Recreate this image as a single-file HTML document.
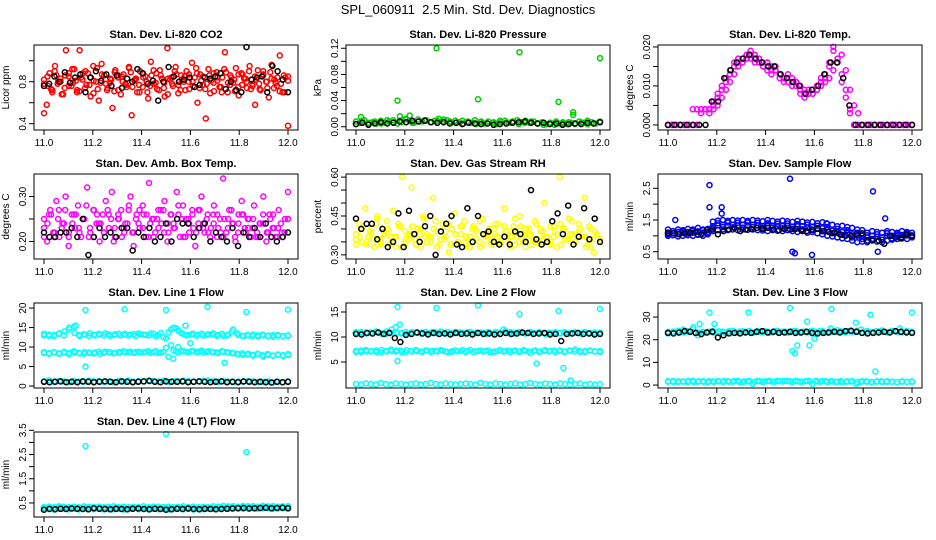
<!DOCTYPE html>
<html><head><meta charset="utf-8"><style>
html,body{margin:0;padding:0;background:#fff;}
svg{display:block;font-family:"Liberation Sans",sans-serif;}
</style></head><body>
<svg id="chart" width="936" height="540" viewBox="0 0 936 540" xmlns="http://www.w3.org/2000/svg">
<rect width="936" height="540" fill="#fff"/>
<text x="468" y="14" text-anchor="middle" font-size="13" xml:space="preserve">SPL_060911  2.5 Min. Std. Dev. Diagnostics</text>
</svg>
<script>
// ---- data arrays ----
const xTicks=[11.0,11.2,11.4,11.6,11.8,12.0];
const xTickLabels=["11.0","11.2","11.4","11.6","11.8","12.0"];

const co2Red=[0.50,0.58,0.88,0.72,0.95,0.78,0.83,0.68,1.10,0.85,0.76,0.92,0.70,1.10,0.82,0.74,0.88,0.66,0.95,0.80,0.62,0.97,0.86,0.72,0.79,0.55,0.91,0.84,0.68,0.87,0.77,0.93,0.48,0.81,0.70,0.90,0.75,0.85,0.64,0.99,0.78,0.88,0.72,0.83,0.66,1.12,0.82,0.76,0.94,0.69,0.86,0.80,0.90,0.73,0.98,0.84,0.60,0.87,0.77,0.45,0.92,0.81,0.71,0.89,0.75,0.84,1.08,0.70,0.86,0.79,0.93,0.67,0.88,0.83,0.74,0.95,0.78,0.58,0.91,0.72,0.87,0.80,0.65,0.96,0.82,0.76,1.05,0.70,0.84,0.38];
const co2Red2=[0.82,0.76,0.70,0.86,0.80,0.74,0.88,0.79,0.72,0.84,0.90,0.77,0.81,0.73,0.87,0.78,0.83,0.71,0.86,0.80,0.75,0.89,0.82,0.77,0.84,0.70,0.86,0.79,0.91,0.74,0.83,0.78,0.87,0.72,0.85,0.80,0.76,0.88,0.81,0.73,0.86,0.79,0.84,0.70,0.89,0.77,0.82,0.75,0.87,0.80,0.73,0.85,0.78,0.90,0.74,0.83,0.79,0.71,0.86,0.81];
const co2Red3=[0.78,0.85,0.73,0.90,0.80,0.68,0.86,0.76,0.92,0.81,0.71,0.88,0.77,0.84,0.69,0.93,0.79,0.86,0.74,0.82,0.89,0.72,0.85,0.78,0.94,0.75,0.83,0.70,0.88,0.80,0.76,0.91,0.73,0.86,0.79,0.68,0.84,0.90,0.77,0.82,0.72,0.87,0.80,0.93,0.74,0.85,0.78,0.69,0.88,0.81,0.75,0.92,0.79,0.84,0.71,0.87,0.77,0.83,0.90,0.76,0.82,0.73,0.86,0.80,0.89,0.74,0.84,0.78,0.70,0.85];
const co2Black=[0.76,0.78,0.85,0.80,0.89,0.79,0.84,0.87,0.70,0.84,0.90,0.81,0.87,0.76,0.86,0.74,0.83,0.80,0.92,0.88,0.78,0.81,0.62,0.80,0.94,0.85,0.80,0.82,0.84,0.75,0.77,0.84,0.83,0.85,0.88,0.73,0.80,0.72,0.70,1.13,0.82,0.84,0.85,0.70,0.95,0.90,0.82,0.70];

const presGreen=[0.008,0.006,0.010,0.004,0.007,0.005,0.009,0.006,0.008,0.010,0.005,0.007,0.012,0.009,0.006,0.011,0.008,0.010,0.007,0.009,0.012,0.008,0.010,0.006,0.009,0.007,0.005,0.008,0.006,0.004,0.007,0.005,0.008,0.006,0.004,0.007,0.009,0.006,0.008,0.010,0.007,0.009,0.006,0.008,0.005,0.007,0.004,0.006,0.003,0.005,0.007,0.004,0.006,0.005,0.008,0.006,0.004,0.007,0.005,0.008];
const presGreen2=[0.004,0.009,0.006,0.008,0.005,0.010,0.007,0.009,0.011,0.006,0.008,0.010,0.007,0.009,0.011,0.008,0.006,0.009,0.007,0.010,0.008,0.005,0.007,0.009,0.006,0.008,0.004,0.006,0.008,0.005,0.003,0.006,0.008,0.005,0.007,0.004,0.006,0.009,0.005,0.007];
const presOutT=[11.02,11.17,11.18,11.22,11.33,11.50,11.67,11.83,11.89,11.89,12.00];
const presOutV=[0.015,0.040,0.016,0.017,0.120,0.042,0.114,0.038,0.022,0.018,0.105];
const presBlack=[0.004,0.006,0.003,0.005,0.007,0.005,0.006,0.008,0.007,0.009,0.008,0.009,0.007,0.006,0.007,0.005,0.006,0.004,0.006,0.005,0.004,0.005,0.003,0.004,0.005,0.006,0.007,0.008,0.006,0.005,0.006,0.004,0.005,0.003,0.004,0.005,0.004,0.006,0.005,0.007];

const tempMag=[0,0,0,0,0,0,0.004,0,0.004,0.004,0.003,0.006,0.007,0.010,0.012,0.014,0.015,0.016,0.017,0.018,0.017,0.016,0.017,0.015,0.016,0.015,0.014,0.013,0.012,0.011,0.012,0.010,0.009,0.008,0.009,0.008,0.010,0.011,0.013,0.015,0.019,0.016,0.011,0.007,0.004,0,0,0,0,0,0,0,0,0,0,0,0,0,0,0];
const tempMag2=[0,0,0,0,0,0,0,0.004,0.003,0.004,0.004,0.005,0.008,0.009,0.011,0.013,0.016,0.017,0.016,0.017,0.019,0.018,0.016,0.016,0.014,0.013,0.015,0.012,0.011,0.013,0.010,0.011,0.008,0.007,0.008,0.009,0.009,0.012,0.012,0.016,0.020,0.017,0.013,0.009,0.003,0,0,0,0,0,0,0,0,0,0,0,0,0,0,0];
const tempMag3=[0,0,0,0,0,0,0,0,0.004,0.004,0.004,0.004,0.005,0.007,0.009,0.011,0.013,0.015,0.016,0.017,0.018,0.017,0.016,0.015,0.016,0.014,0.014,0.013,0.012,0.011,0.011,0.011,0.010,0.009,0.008,0.008,0.009,0.010,0.011,0.012,0.014,0.016,0.018,0.014,0.009,0.005,0.003,0,0,0,0,0,0,0,0,0,0,0,0,0];
const tempBlack=[0,0,0,0,0,0,0,0.006,0.006,0.012,0.014,0.016,0.017,0.018,0.017,0.016,0.015,0.015,0.013,0.012,0.011,0.010,0.008,0.009,0.010,0.013,0.016,0.016,0.012,0.005,0,0,0,0,0,0,0,0,0,0];

const ambMag=[0.25,0.20,0.27,0.22,0.29,0.21,0.24,0.30,0.19,0.26,0.23,0.28,0.21,0.25,0.32,0.22,0.27,0.24,0.20,0.26,0.29,0.23,0.31,0.21,0.25,0.27,0.22,0.24,0.30,0.19,0.26,0.23,0.28,0.21,0.33,0.25,0.22,0.27,0.24,0.29,0.20,0.26,0.23,0.31,0.21,0.28,0.25,0.22,0.27,0.19,0.24,0.30,0.22,0.26,0.23,0.28,0.21,0.25,0.34,0.22,0.27,0.24,0.20,0.26,0.29,0.23,0.25,0.21,0.28,0.22,0.24,0.30,0.20,0.26,0.23,0.21,0.27,0.22,0.25,0.31];
const ambMag2=[0.23,0.26,0.21,0.27,0.24,0.22,0.26,0.23,0.25,0.21,0.27,0.24,0.22,0.26,0.20,0.25,0.23,0.27,0.22,0.24,0.26,0.21,0.25,0.23,0.27,0.22,0.24,0.26,0.21,0.25,0.23,0.27,0.24,0.22,0.26,0.23,0.21,0.25,0.24,0.22,0.26,0.23,0.25,0.21,0.24,0.22,0.26,0.23,0.21,0.25];
const ambMag3=[0.21,0.24,0.26,0.22,0.25,0.23,0.27,0.21,0.24,0.26,0.22,0.25,0.28,0.23,0.21,0.26,0.24,0.22,0.27,0.25,0.23,0.26,0.21,0.24,0.28,0.22,0.25,0.27,0.23,0.26,0.24,0.21,0.25,0.27,0.22,0.24,0.26,0.23,0.28,0.25,0.21,0.24,0.26,0.22,0.27,0.23,0.25,0.21,0.24,0.26,0.22,0.25,0.23,0.27,0.21,0.24,0.26,0.22,0.25,0.23,0.21,0.24,0.26,0.22,0.25,0.23,0.21,0.24,0.22,0.25];
const ambBlack=[0.22,0.21,0.21,0.22,0.22,0.23,0.21,0.25,0.17,0.21,0.23,0.21,0.22,0.21,0.23,0.23,0.18,0.22,0.21,0.23,0.20,0.21,0.24,0.20,0.25,0.24,0.24,0.21,0.23,0.24,0.20,0.22,0.21,0.20,0.23,0.19,0.22,0.21,0.23,0.21,0.24,0.21,0.20,0.21,0.22];

const rhYellow=[0.38,0.42,0.35,0.48,0.37,0.40,0.33,0.45,0.36,0.39,0.43,0.34,0.47,0.37,0.41,0.60,0.35,0.38,0.56,0.36,0.40,0.33,0.44,0.38,0.36,0.52,0.39,0.34,0.42,0.37,0.31,0.40,0.46,0.35,0.38,0.43,0.36,0.33,0.41,0.39,0.35,0.44,0.37,0.40,0.34,0.38,0.42,0.36,0.48,0.39,0.33,0.41,0.37,0.45,0.35,0.40,0.38,0.34,0.43,0.36,0.39,0.50,0.35,0.41,0.37,0.33,0.60,0.40,0.36,0.44,0.38,0.35,0.42,0.37,0.52,0.34,0.40,0.31,0.38,0.36];
const rhYellow2=[0.36,0.40,0.34,0.38,0.42,0.35,0.39,0.37,0.33,0.41,0.36,0.38,0.34,0.40,0.37,0.35,0.43,0.36,0.39,0.34,0.38,0.41,0.35,0.37,0.40,0.33,0.38,0.36,0.42,0.35,0.39,0.37,0.34,0.41,0.36,0.38,0.35,0.40,0.37,0.34,0.39,0.42,0.36,0.38,0.35,0.40,0.37,0.33,0.39,0.36];
const rhYellow3=[0.34,0.37,0.41,0.35,0.39,0.36,0.44,0.34,0.38,0.40,0.35,0.37,0.42,0.33,0.39,0.36,0.41,0.34,0.38,0.45,0.35,0.37,0.40,0.33,0.39,0.36,0.42,0.34,0.38,0.35,0.41,0.37,0.33,0.40,0.36,0.43,0.34,0.38,0.35,0.40,0.37,0.34,0.41,0.36,0.39,0.44,0.35,0.38,0.33,0.40,0.36,0.42,0.34,0.39,0.37,0.35,0.41,0.38,0.34,0.40,0.36,0.43,0.35,0.39,0.37,0.33,0.41,0.36,0.38,0.35];
const rhBlack=[0.44,0.40,0.42,0.42,0.36,0.40,0.33,0.35,0.46,0.33,0.47,0.38,0.35,0.41,0.45,0.30,0.39,0.42,0.45,0.34,0.33,0.48,0.35,0.45,0.38,0.39,0.35,0.34,0.37,0.34,0.39,0.38,0.35,0.55,0.36,0.34,0.35,0.43,0.46,0.38,0.49,0.34,0.37,0.48,0.36,0.44,0.35];

const flowBlueHi=[1.2,1.15,1.2,1.18,1.22,1.2,1.25,1.2,1.22,1.45,1.48,1.5,1.47,1.5,1.48,1.5,1.47,1.5,1.48,1.46,1.5,1.47,1.45,1.48,1.46,1.44,1.47,1.45,1.42,1.44,1.4,1.43,1.38,1.35,1.3,1.32,1.28,1.25,1.2,1.18,1.1,1.15,1.12,1.1,1.15,1.12,1.1,1.15,1.12,1.1];
const flowBlueLo=[1.0,1.02,0.98,1.0,1.02,1.0,1.03,1.0,1.05,1.15,1.18,1.2,1.18,1.2,1.18,1.2,1.19,1.2,1.18,1.17,1.15,1.18,1.16,1.15,1.18,1.15,1.12,1.15,1.1,1.12,1.08,1.05,1.0,0.98,0.95,0.92,0.9,0.85,0.8,0.82,0.8,0.85,0.82,0.8,0.85,0.88,0.9,0.92,0.9,0.95];
const flowBlueMid=[1.1,1.08,1.12,1.1,1.12,1.1,1.14,1.1,1.12,1.3,1.33,1.35,1.32,1.35,1.33,1.35,1.33,1.35,1.33,1.31,1.32,1.32,1.3,1.31,1.32,1.29,1.3,1.3,1.26,1.28,1.24,1.24,1.19,1.16,1.12,1.12,1.09,1.05,1.0,1.0,0.95,1.0,0.97,0.95,1.0,1.0,1.0,1.03,1.01,1.02];
const flowBlueMid2=[1.05,1.15,1.06,1.14,1.07,1.16,1.05,1.18,1.1,1.25,1.4,1.28,1.42,1.27,1.41,1.26,1.42,1.28,1.41,1.25,1.4,1.26,1.38,1.24,1.39,1.22,1.37,1.21,1.35,1.18,1.32,1.15,1.28,1.08,1.22,1.03,1.18,0.95,1.1,0.9,1.02,0.9,1.05,0.88,1.08,0.92,1.05,0.96,1.08,0.98];
const flowOutT=[11.03,11.17,11.17,11.22,11.22,11.50,11.51,11.52,11.59,11.65,11.84,11.86,11.89];
const flowOutV=[1.5,2.6,1.9,1.7,1.9,2.8,0.5,0.45,0.4,1.4,2.4,0.5,1.55];
const flowBlack=[1.1,1.08,1.05,1.08,1.1,1.12,1.05,1.18,1.2,1.05,1.15,1.2,1.25,1.15,1.2,1.22,1.25,1.22,1.25,1.2,1.18,1.22,1.2,1.22,1.18,1.15,1.2,1.22,1.15,1.12,1.1,1.05,1.0,1.0,1.05,1.08,0.85,0.88,0.85,0.75,1.0,0.95,0.92,1.05,1.0];

const l1High=[13,13.2,12.8,13.4,13,14.5,15.2,13.1,13.3,12.9,13.2,13.4,13.0,13.3,13.1,13.4,13.2,13.0,13.3,13.5,13.2,13.0,13.4,13.1,12.5,13.8,15,14.2,13.3,13.1,13.4,13.2,13.0,13.3,13.5,13.1,12.9,13.2,14.5,13.1,12.8,13.0,13.2,12.7,13.0,12.9,12.6,13.1,12.8,12.9];
const l1High2=[13.4,12.9,13.1,13.5,14.0,15.0,13.6,12.9,13.2,13.5,13.0,13.2,13.5,12.9,13.3,13.0,13.4,13.2,12.9,13.3,13.1,13.5,12.8,13.6,12.2,14.5,14.8,13.6,13.0,13.3,12.9,13.4,13.1,13.2,12.9,13.4,13.0,14.0,13.5,12.9,13.1,12.8,13.0,13.2,12.8,13.1,12.9,12.7,13.0];
const l1Mid=[8.5,8.3,8.7,8.4,8.6,8.2,8.9,8.5,8.3,8.6,8.4,8.8,8.5,8.7,8.4,8.6,8.9,8.7,8.5,8.8,8.6,8.9,8.7,8.5,8.8,7.5,9.2,8.6,8.9,8.7,9.0,8.8,8.6,8.9,8.7,8.5,8.8,8.6,8.4,8.2,8.0,8.3,7.8,8.2,7.6,8.0,7.8,8.1,7.7,8.0];
const l1Mid2=[8.7,8.4,8.6,8.3,8.8,8.5,8.6,8.4,8.7,8.5,8.6,8.3,8.8,8.6,8.5,8.7,8.6,8.8,8.7,8.6,8.8,8.5,8.9,8.6,9.8,10.5,8.8,9.0,8.8,8.9,8.7,9.1,8.7,8.8,8.6,8.9,8.7,8.5,8.3,8.4,8.1,8.0,8.3,7.9,8.2,7.8,8.0,7.9,8.2];
const l1Low=[1.2,1.5,1.1,1.3,1.2,1.0,1.3,1.2,1.1,1.4,1.2,1.3,1.1,1.2,1.0,1.3,1.2,1.4,1.1,1.3,1.2,1.5,1.3,1.2,1.4,1.1,1.3,1.2,1.4,1.3,1.1,1.2,1.3,1.4,1.2,1.1,1.3,1.2,1.0,1.2,1.1,1.3,1.2,1.0,1.1,1.2,0.9,1.1,1.0,1.2];
const l1OutT=[11.17,11.33,11.50,11.67,11.83,12.00,11.17,11.74,11.53,11.55,11.58,11.60,11.13];
const l1OutV=[19.5,19.7,19.5,20.3,19.0,19.6,5.0,6.0,7.0,10.0,15.5,11.0,15.5];
const l1Black=[1.1,1.0,1.1,1.2,1.0,1.1,1.0,1.2,1.1,1.0,1.1,1.2,1.1,1.0,1.2,1.1,1.0,1.1,1.2,1.3,1.1,1.0,1.2,1.1,1.1,1.2,1.0,1.1,1.2,1.1,1.0,1.1,1.2,1.0,1.1,1.0,1.2,1.1,1.0,1.1,1.0,0.9,1.1,1.0,1.1];

const l2High=[10.8,11.0,10.7,10.9,11.1,10.8,10.6,10.9,12.0,10.7,11.0,10.8,10.9,10.7,11.0,10.8,10.9,11.1,10.7,10.8,11.0,10.9,10.7,11.0,10.8,10.9,10.6,10.8,11.0,10.7,11.2,11.0,10.8,10.9,10.7,11.0,10.8,10.9,10.6,10.8,11.0,10.7,10.9,10.8,11.0,10.7,10.9,10.8,10.6,10.9];
const l2High2=[11.0,10.7,10.9,10.8,11.0,10.7,11.1,11.5,10.9,10.8,10.6,11.0,10.8,10.9,10.7,11.0,10.8,10.9,11.0,10.7,10.9,10.8,11.0,10.7,10.9,10.8,11.0,10.7,10.9,11.5,10.8,10.7,11.0,10.8,10.9,10.7,11.0,10.8,10.9,10.7,10.8,11.0,10.7,10.9,10.8,11.0,10.7,10.9,10.8];
const l2Mid=[7.2,7.0,7.4,7.1,7.3,6.9,7.2,7.5,7.1,7.3,7.0,7.2,7.4,7.1,7.3,7.0,7.2,7.4,7.1,6.9,7.3,7.2,7.0,7.4,7.1,7.3,7.2,6.9,7.1,7.4,7.2,7.0,7.3,7.1,7.2,6.8,7.3,7.1,7.4,7.2,7.0,7.3,7.1,7.2,7.5,7.0,7.2,7.3,7.1,7.0];
const l2Mid2=[7.0,7.3,7.1,7.2,7.0,7.4,7.1,7.2,7.3,7.0,7.4,7.1,7.2,7.0,7.3,7.2,7.1,7.3,7.0,7.2,7.1,7.4,7.2,7.0,7.2,7.1,7.3,7.0,7.2,7.1,7.3,7.2,7.0,7.4,7.1,7.2,7.0,7.2,7.1,7.3,7.2,7.0,7.3,7.1,7.2,7.0,7.3,7.1,7.2];
const l2Low=[0.6,0.5,0.7,0.6,0.5,0.8,0.6,0.5,0.7,0.6,0.5,0.6,0.7,0.5,0.6,0.8,0.6,0.5,0.7,0.6,0.5,0.6,0.7,0.6,0.5,0.8,0.6,0.5,0.7,0.6,0.5,0.6,0.7,0.5,0.6,0.8,0.6,0.5,0.7,0.6,0.5,0.7,0.6,0.5,0.6,0.7,0.5,0.6,0.5,0.6];
const l2OutT=[11.17,11.33,11.50,11.67,11.83,12.00,11.17,11.74,11.85,11.88,11.18];
const l2OutV=[16.0,15.8,16.3,14.6,15.2,15.6,5.2,4.7,3.8,1.3,12.5];
const l2Black=[10.6,10.5,10.8,10.7,10.9,10.6,10.8,9.8,9.0,10.4,10.6,10.9,10.7,10.5,10.8,10.6,10.7,10.5,10.8,10.6,10.7,10.5,10.8,10.6,10.7,10.5,10.6,10.8,10.6,10.7,10.9,10.8,10.6,10.7,10.8,10.5,10.6,9.2,10.6,10.7,10.8,10.6,10.7,10.5,10.6];

const l3High=[23.5,23.0,24.0,23.2,23.8,24.5,22.0,23.5,23.2,23.8,23.0,23.6,23.4,24.0,23.2,23.8,23.5,23.1,23.9,23.4,23.6,23.2,24.0,23.5,23.1,23.8,23.4,23.6,23.2,24.0,23.5,23.8,23.1,23.6,24.2,23.4,23.8,23.5,24.0,23.2,23.9,23.4,23.7,24.1,23.3,23.8,23.5,23.2,23.9,23.4];
const l3High2=[22.8,23.6,23.1,24.5,23.4,25.5,23.2,23.0,23.6,23.1,23.7,23.3,23.8,23.1,23.6,23.3,23.9,23.2,23.5,23.8,23.1,23.7,23.3,23.6,23.2,23.9,23.1,23.5,23.7,23.3,23.9,23.2,25.0,23.4,23.7,23.2,23.9,23.4,24.5,23.6,23.3,23.8,23.5,23.2,23.9,23.6,23.3,23.7,23.5];
const l3Low=[1.5,1.8,1.3,1.6,1.4,1.9,1.5,1.7,1.3,1.6,1.8,1.4,1.7,1.5,1.9,1.3,1.6,0.5,1.8,1.4,1.7,1.5,1.9,1.6,1.8,1.4,1.7,1.5,1.9,0.5,1.6,1.8,1.4,1.7,1.5,1.3,1.6,1.8,1.4,1.7,1.5,1.3,1.6,1.4,1.7,1.5,1.3,1.6,1.4,1.5];
const l3Low2=[1.7,1.4,1.6,1.5,1.8,1.4,1.6,1.5,1.7,1.4,1.6,1.8,1.5,1.7,1.4,1.6,1.8,1.5,1.7,1.6,1.8,1.5,1.7,1.9,1.6,1.8,1.5,1.7,1.6,1.8,1.5,1.7,1.6,1.4,1.7,1.5,1.6,0.6,1.5,1.6,1.4,1.5,1.6,1.4,1.5,1.3,1.5,1.4,1.6];
const l3OutT=[11.17,11.33,11.50,11.67,11.83,12.00,11.13,11.51,11.52,11.53,11.58,11.60,11.57,11.77,11.85,11.95,11.19];
const l3OutV=[32.0,32.0,34.0,33.5,31.0,32.0,27.0,15.0,14.0,17.5,17.5,20.5,28.0,27.5,6.0,25.0,27.0];
const l3Black=[23.0,22.8,23.2,23.8,23.5,23.0,22.5,23.2,23.5,21.0,22.0,22.8,23.0,22.8,23.2,23.0,23.5,23.8,23.2,23.5,23.0,23.2,23.5,23.0,23.2,23.5,23.0,22.8,23.0,23.2,23.5,23.2,23.8,24.0,23.5,23.0,22.8,23.0,23.2,23.5,23.2,23.8,23.5,23.2,23.0];

const l4High=[0.33,0.35,0.32,0.36,0.34,0.33,0.35,0.32,0.36,0.34,0.33,0.35,0.32,0.34,0.36,0.33,0.35,0.32,0.34,0.33,0.36,0.32,0.35,0.34,0.33,0.35,0.32,0.34,0.36,0.33,0.35,0.32,0.34,0.33,0.36,0.35,0.38,0.36,0.37,0.35,0.38,0.36,0.37,0.35,0.38,0.36,0.37,0.35,0.36,0.37];
const l4Low=[0.24,0.26,0.23,0.27,0.25,0.24,0.26,0.23,0.25,0.27,0.24,0.26,0.23,0.25,0.24,0.26,0.23,0.25,0.27,0.24,0.26,0.23,0.25,0.24,0.26,0.23,0.25,0.27,0.24,0.26,0.23,0.25,0.24,0.26,0.25,0.27,0.28,0.26,0.27,0.28,0.26,0.27,0.28,0.26,0.27,0.28,0.26,0.27,0.28,0.27];
const l4Mid=[0.29,0.30,0.28,0.31,0.29,0.30,0.28,0.31,0.29,0.30,0.28,0.30,0.31,0.29,0.30,0.28,0.31,0.29,0.30,0.28,0.30,0.31,0.29,0.30,0.28,0.30,0.29,0.31,0.30,0.28,0.30,0.29,0.31,0.30,0.31,0.32,0.33,0.32,0.31,0.33,0.32,0.33,0.31,0.32,0.33,0.32,0.31,0.32,0.33];
const l4OutT=[11.17,11.50,11.83];
const l4OutV=[2.85,3.35,2.60];
const l4Black=[0.22,0.25,0.24,0.26,0.25,0.27,0.26,0.25,0.24,0.28,0.26,0.25,0.24,0.26,0.25,0.24,0.26,0.27,0.25,0.24,0.26,0.25,0.22,0.24,0.26,0.25,0.27,0.25,0.24,0.26,0.25,0.24,0.25,0.26,0.27,0.28,0.29,0.27,0.28,0.29,0.30,0.28,0.29,0.30,0.28];

// ---- axis config (ticks & labels) ----
const yTicks1=[0.4,0.6,0.8,1.0], yLab1=["0.4","","0.8",""];
const yTicks2=[0,0.02,0.04,0.06,0.08,0.10,0.12], yLab2=["0.00","","0.04","","0.08","","0.12"];
const yTicks3=[0,0.005,0.010,0.015,0.020], yLab3=["0.000","","0.010","","0.020"];
const yTicks4=[0.20,0.25,0.30], yLab4=["0.20","","0.30"];
const yTicks5=[0.30,0.35,0.40,0.45,0.50,0.55,0.60], yLab5=["0.30","","","0.45","","","0.60"];
const yTicks6=[0.5,1.0,1.5,2.0,2.5], yLab6=["0.5","","1.5","","2.5"];
const yTicks7=[0,5,10,15,20], yLab7=["0","5","10","15","20"];
const yTicks8=[5,10,15], yLab8=["5","10","15"];
const yTicks9=[0,10,20,30], yLab9=["0","10","20","30"];
const yTicks10=[0.5,1.0,1.5,2.0,2.5,3.0,3.5], yLab10=["0.5","","1.5","","2.5","","3.5"];

const C_RED="#ff0000",C_GRN="#00cc00",C_MAG="#ff00ff",C_YEL="#ffff00",C_BLU="#0000ff",C_CYN="#00ffff",C_BLK="#000000";

const panels=[
 {name:"co2",title:"Stan. Dev. Li-820 CO2",ylab:"Licor ppm",col:0,row:0,ymin:0.34,ymax:1.15,ticks:yTicks1,labs:yLab1,
  bands:[[co2Red,C_RED],[co2Red2,C_RED],[co2Red3,C_RED]],out:[],black:co2Black},
 {name:"pressure",title:"Stan. Dev. Li-820 Pressure",ylab:"kPa",col:1,row:0,ymin:-0.005,ymax:0.125,ticks:yTicks2,labs:yLab2,
  bands:[[presGreen,C_GRN],[presGreen2,C_GRN]],out:[[presOutT,presOutV,C_GRN]],black:presBlack},
 {name:"licor-temp",title:"Stan. Dev. Li-820 Temp.",ylab:"degrees C",col:2,row:0,ymin:-0.0013,ymax:0.0205,ticks:yTicks3,labs:yLab3,
  bands:[[tempMag,C_MAG],[tempMag2,C_MAG],[tempMag3,C_MAG]],out:[],black:tempBlack},
 {name:"amb-box-temp",title:"Stan. Dev. Amb. Box Temp.",ylab:"degrees C",col:0,row:1,ymin:0.161,ymax:0.35,ticks:yTicks4,labs:yLab4,
  bands:[[ambMag,C_MAG],[ambMag2,C_MAG],[ambMag3,C_MAG]],out:[],black:ambBlack},
 {name:"gas-rh",title:"Stan. Dev. Gas Stream RH",ylab:"percent",col:1,row:1,ymin:0.284,ymax:0.612,ticks:yTicks5,labs:yLab5,
  bands:[[rhYellow,C_YEL],[rhYellow2,C_YEL],[rhYellow3,C_YEL]],out:[],black:rhBlack},
 {name:"sample-flow",title:"Stan. Dev. Sample Flow",ylab:"ml/min",col:2,row:1,ymin:0.27,ymax:2.95,ticks:yTicks6,labs:yLab6,
  bands:[[flowBlueHi,C_BLU],[flowBlueLo,C_BLU],[flowBlueMid,C_BLU],[flowBlueMid2,C_BLU]],out:[[flowOutT,flowOutV,C_BLU]],black:flowBlack},
 {name:"line1-flow",title:"Stan. Dev. Line 1 Flow",ylab:"ml/min",col:0,row:2,ymin:-0.5,ymax:21.3,ticks:yTicks7,labs:yLab7,
  bands:[[l1High,C_CYN],[l1High2,C_CYN],[l1Mid,C_CYN],[l1Mid2,C_CYN],[l1Low,C_CYN]],out:[[l1OutT,l1OutV,C_CYN]],black:l1Black},
 {name:"line2-flow",title:"Stan. Dev. Line 2 Flow",ylab:"ml/min",col:1,row:2,ymin:-0.2,ymax:16.8,ticks:yTicks8,labs:yLab8,
  bands:[[l2High,C_CYN],[l2High2,C_CYN],[l2Mid,C_CYN],[l2Mid2,C_CYN],[l2Low,C_CYN]],out:[[l2OutT,l2OutV,C_CYN]],black:l2Black},
 {name:"line3-flow",title:"Stan. Dev. Line 3 Flow",ylab:"ml/min",col:2,row:2,ymin:-1.3,ymax:36.2,ticks:yTicks9,labs:yLab9,
  bands:[[l3High,C_CYN],[l3High2,C_CYN],[l3Low,C_CYN],[l3Low2,C_CYN]],out:[[l3OutT,l3OutV,C_CYN]],black:l3Black},
 {name:"line4-flow",title:"Stan. Dev. Line 4 (LT) Flow",ylab:"ml/min",col:0,row:3,ymin:-0.08,ymax:3.43,ticks:yTicks10,labs:yLab10,
  bands:[[l4High,C_CYN],[l4Low,C_CYN],[l4Mid,C_CYN]],out:[[l4OutT,l4OutV,C_CYN]],black:l4Black}
];

// ---- rendering ----
const NS="http://www.w3.org/2000/svg";
const svg=document.getElementById('chart');
const colLeft=[34,346,658], rowTop=[45,174,303,432], BW=264, BH=85;
function mk(tag,attrs,parent){const e=document.createElementNS(NS,tag);for(const k in attrs)e.setAttribute(k,attrs[k]);(parent||svg).appendChild(e);return e;}

panels.forEach(p=>{
  const L=colLeft[p.col], T=rowTop[p.row], B=T+BH;
  const xs=t=>L+10+(t-11)*(BW-20);
  const ys=v=>B-(v-p.ymin)/(p.ymax-p.ymin)*BH;
  const g=mk('g',{});
  
  
  const tt=mk('text',{x:L+BW/2,y:T-7,'text-anchor':'middle','font-size':11,'font-weight':'bold'},g);
  tt.textContent=p.title;
  
  
  const marks=mk('g',{fill:'none','stroke-width':1.5},g);
  
  
  function pt(t,v,c){
    const y=ys(v); if(y<T-2||y>B+2) return;
    const e=mk('circle',{cx:xs(t).toFixed(1),cy:y.toFixed(1),r:2.5,stroke:c},marks);
    
    
  }
  p.bands.forEach(([arr,c])=>{const n=arr.length;arr.forEach((v,i)=>pt(11+i/(n-1),v,c));});
  p.out.forEach(([ts,vs,c])=>ts.forEach((t,i)=>pt(t,vs[i],c)));
  const bn=p.black.length;
  p.black.forEach((v,i)=>pt(11+i/(bn-1),v,C_BLK));
  const box=mk('rect',{x:L,y:T,width:BW,height:BH,fill:'none',stroke:'#000','stroke-width':1},g);
  
  
  const xa=mk('g',{stroke:'#000','stroke-width':1},g);
  
  
  mk('line',{x1:xs(11),x2:xs(12),y1:B,y2:B},xa);
  xTicks.forEach((t,i)=>{
    mk('line',{x1:xs(t),x2:xs(t),y1:B,y2:B+5},xa);
    const lt=mk('text',{x:xs(t),y:B+16,'text-anchor':'middle','font-size':10,stroke:'none',fill:'#000'},xa);
    lt.textContent=xTickLabels[i];
    
    
  });
  const ya=mk('g',{stroke:'#000','stroke-width':1},g);
  
  
  p.ticks.forEach((v,i)=>{
    const y=ys(v);
    mk('line',{x1:L-5,x2:L,y1:y,y2:y},ya);
    if(p.labs[i]){
      const lt=mk('text',{x:L-8,y:y,'text-anchor':'middle','font-size':10,stroke:'none',fill:'#000',transform:`rotate(-90 ${L-8} ${y})`},ya);
      lt.textContent=p.labs[i];
      
      
    }
  });
  const yl=mk('text',{x:L-25,y:T+BH/2,'text-anchor':'middle','font-size':10,transform:`rotate(-90 ${L-25} ${T+BH/2})`},g);
  yl.textContent=p.ylab;
  
  
});
</script>
</body></html>
